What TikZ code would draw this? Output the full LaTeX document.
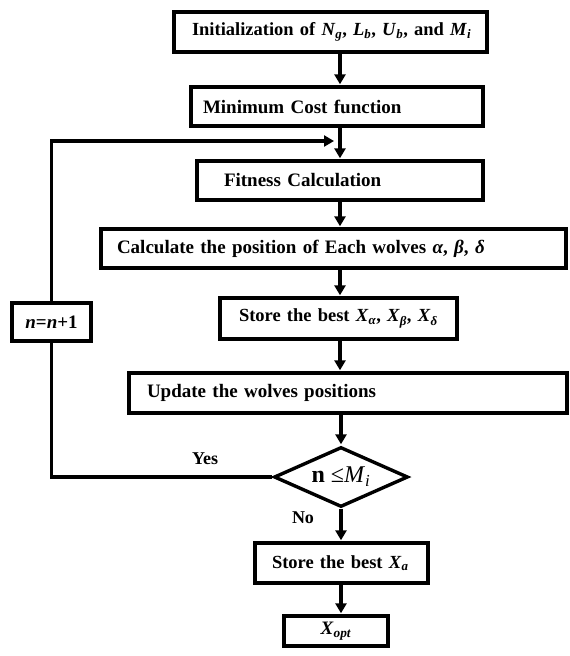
\documentclass[tikz,border=0pt]{standalone}
\usepackage{fontspec}
\setmainfont{Liberation Serif}
\usetikzlibrary{arrows.meta,shapes.geometric}
\newcommand\ii[1]{\textit{#1}}
\newcommand\sub[1]{\textsubscript{\textit{#1}}}
\begin{document}
\begin{tikzpicture}[x=1pt,y=-1pt,
  box/.style={draw, line width=3.4pt, rectangle, align=left, inner ysep=0pt,
    font=\bfseries\fontsize{19}{22}\selectfont},
  arr/.style={line width=3.2pt, -{Triangle[length=10pt,width=11pt]}, shorten >=1pt},
  plain/.style={line width=3.2pt},
  lbl/.style={font=\bfseries\fontsize{18}{21}\selectfont, inner sep=0pt}]
\useasboundingbox (0,0) rectangle (570,656);
\coordinate (sp) at (340,0);
\node[box, text width=277pt, inner xsep=18pt, minimum height=40pt,
  font=\bfseries\fontsize{18.5}{21}\selectfont] (init) at (330.5,32)
  {\mbox{Initialization of \ii{N}\sub{g}, \ii{L}\sub{b}, \ii{U}\sub{b}, and \ii{M}\sub{i}}};
\node[box, text width=268pt, inner xsep=12pt, minimum height=39pt] (mincost) at (337,106.5)
  {\mbox{Minimum Cost function}};
\node[box, text width=232pt, inner xsep=27pt, minimum height=39pt] (fit) at (340,180.5)
  {\mbox{Fitness Calculation}};
\node[box, text width=433pt, inner xsep=16pt, minimum height=39pt] (calc) at (333.5,248.5)
  {\mbox{Calculate the position of Each wolves \ii{α}, \ii{β}, \ii{δ}}};
\node[box, text width=199pt, inner xsep=19pt, minimum height=41pt,
  font=\bfseries\fontsize{18.5}{21}\selectfont] (store) at (338.5,318.5)
  {\mbox{Store the best \ii{X}\sub{α}, \ii{X}\sub{β}, \ii{X}\sub{δ}}};
\node[box, text width=402pt, inner xsep=18pt, minimum height=40pt] (update) at (348,393)
  {\mbox{Update the wolves positions}};
\node[draw, diamond, line width=3.4pt, minimum width=134pt, minimum height=60pt, inner sep=0pt,
  aspect=2.2, font=\fontsize{24}{27}\selectfont] (dia) at (341,477)
  {\textbf{n} ≤\ii{M}\sub{i}};
\node[box, text width=139pt, inner xsep=17pt, minimum height=40pt,
  font=\bfseries\fontsize{18.5}{21}\selectfont] (storea) at (341.5,563)
  {\mbox{Store the best \ii{X}\sub{a}}};
\node[box, align=center, minimum width=104pt, minimum height=30pt] (xopt) at (336,631)
  {\ii{X}\sub{opt}};
\node[box, align=center, minimum width=79pt, minimum height=38pt] (ninc) at (51.5,322)
  {\ii{n}=\ii{n}+1};
\node[lbl] (yes) at (205,459) {Yes};
\node[lbl] (no) at (303,518) {No};
\coordinate (loopend) at (335,141);
\draw[arr] (init.south -| sp) -- (mincost.north -| sp);
\draw[arr] (mincost.south -| sp) -- (fit.north -| sp);
\draw[arr] (fit.south -| sp) -- (calc.north -| sp);
\draw[arr] (calc.south -| sp) -- (store.north -| sp);
\draw[arr] (store.south -| sp) -- (update.north -| sp);
\draw[arr] (update.south -| dia) -- (dia.north);
\draw[arr] (dia.south) -- (storea.north -| dia);
\draw[arr] (storea.south -| dia) -- (xopt.north -| dia);
\draw[plain] (dia.west) -| (ninc.south);
\draw[arr] (ninc.north) |- (loopend);
\end{tikzpicture}
\end{document}
